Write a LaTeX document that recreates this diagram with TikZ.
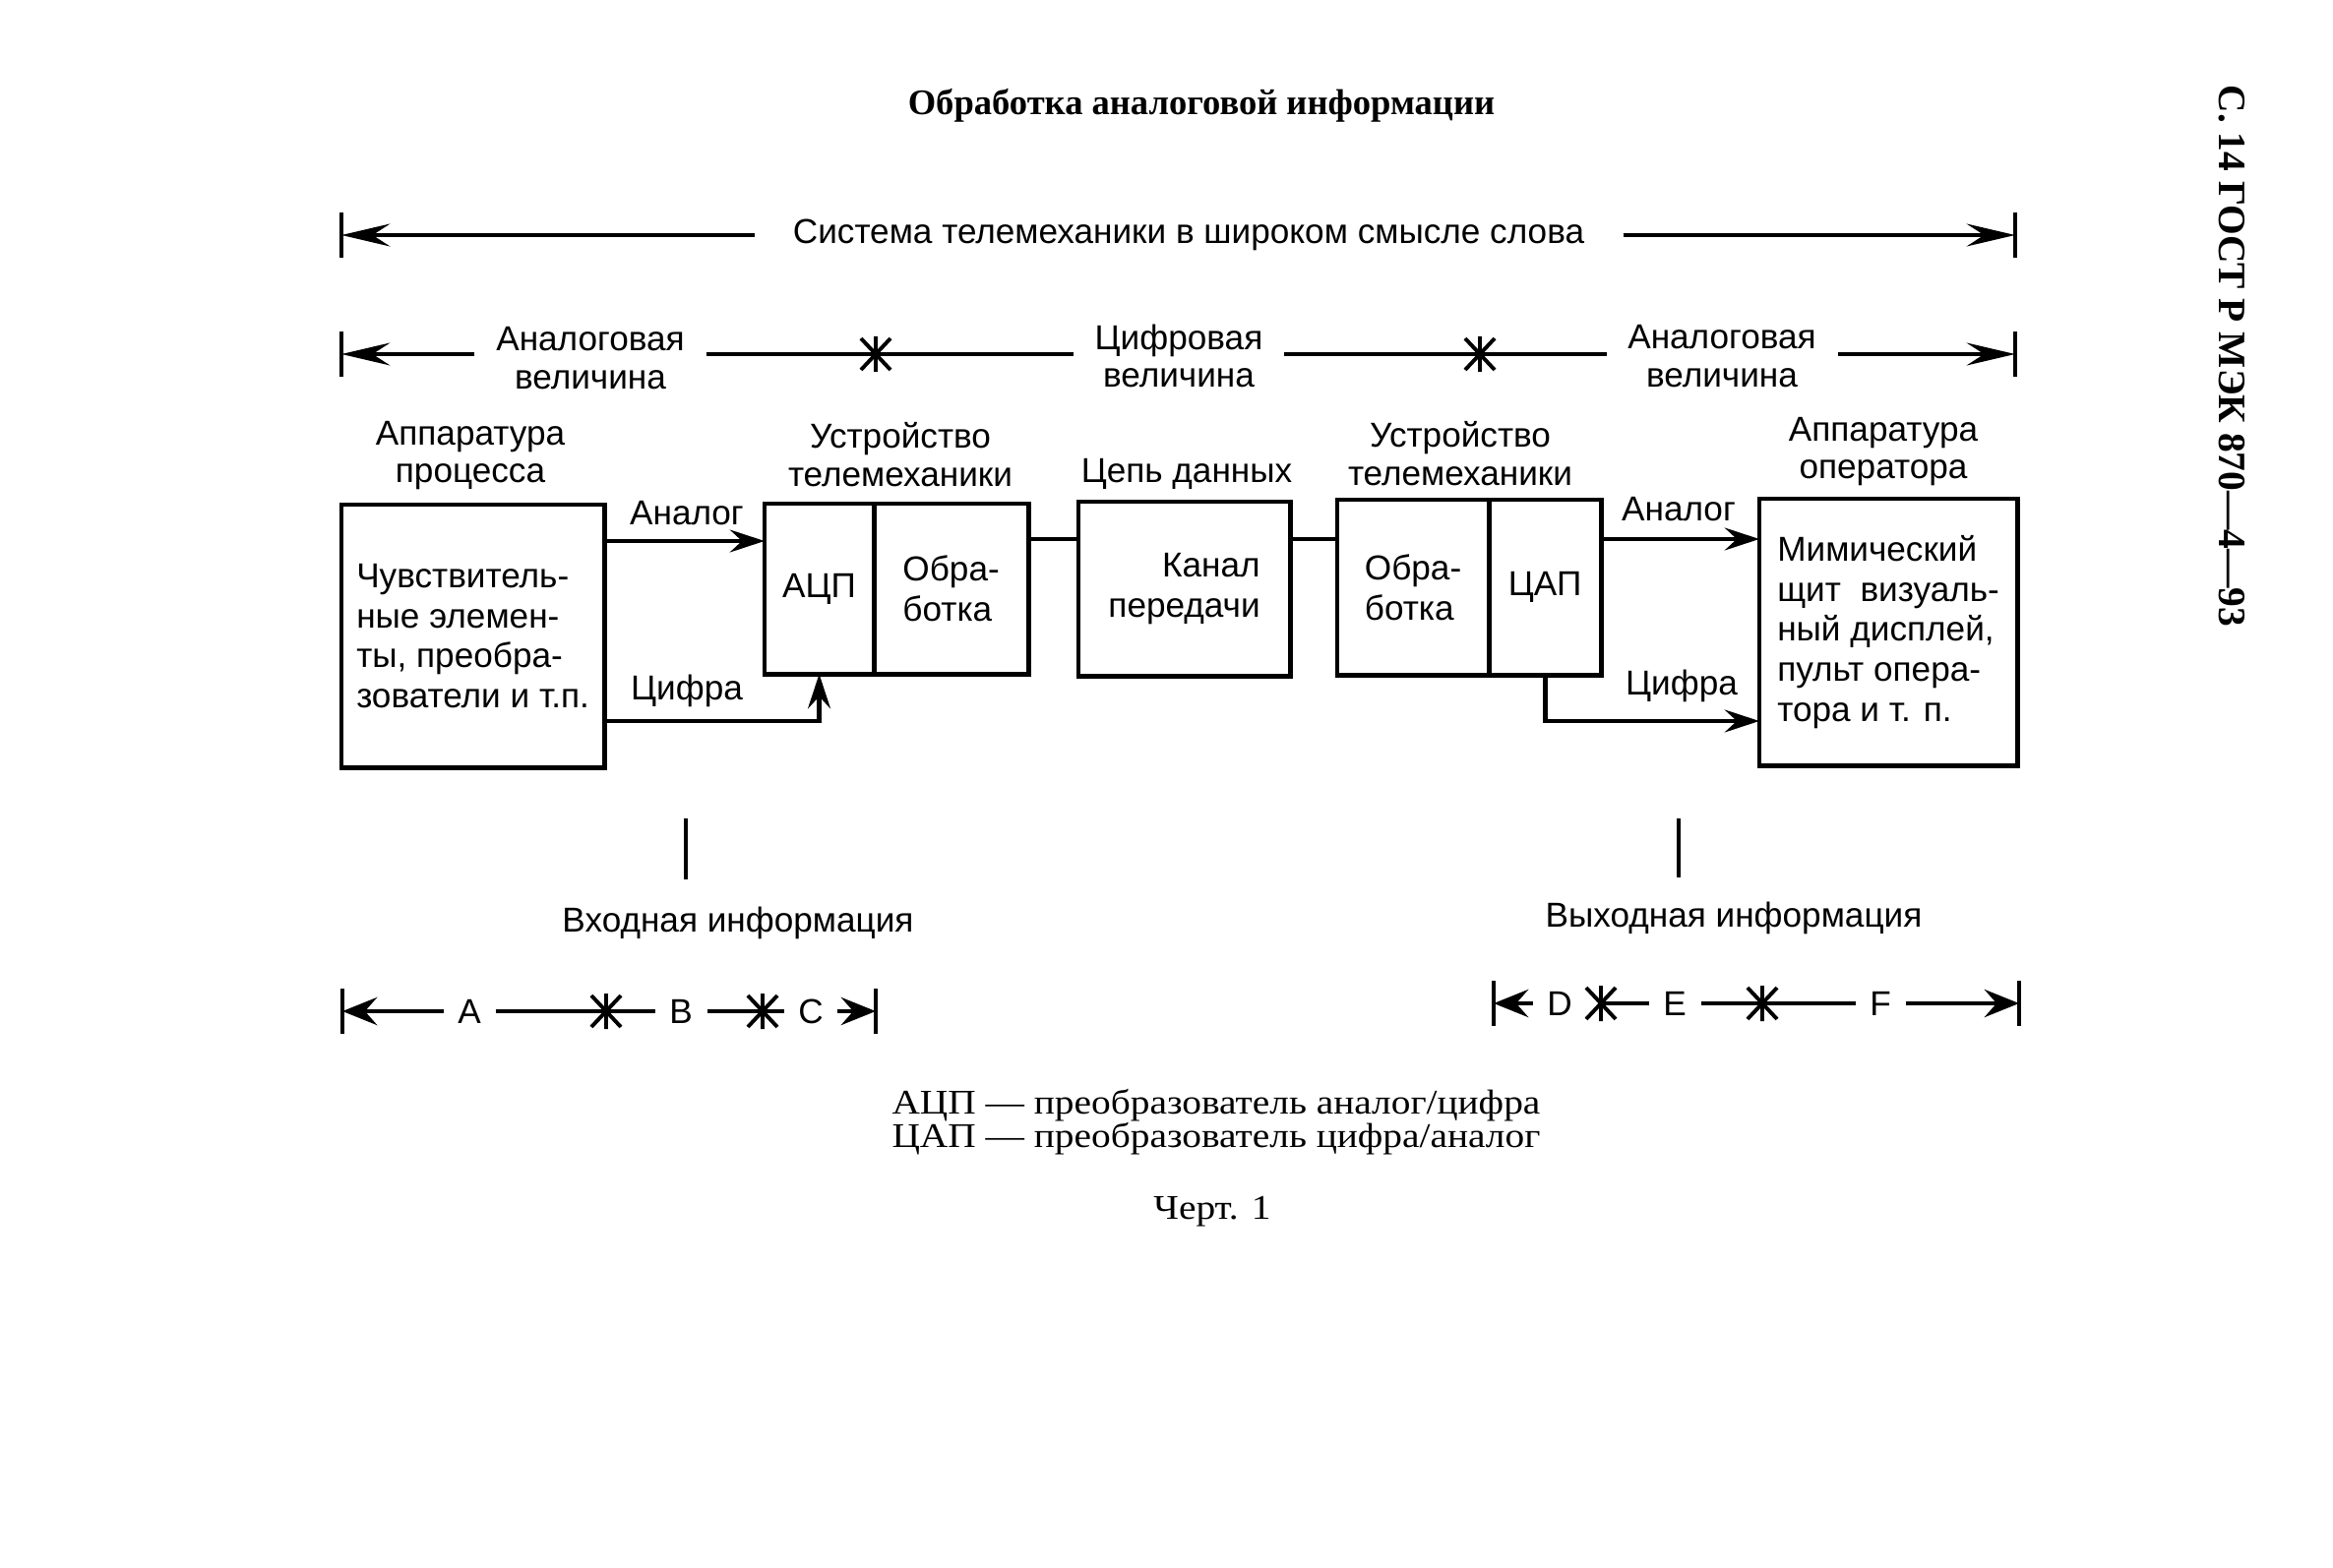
\documentclass[tikz,border=0pt]{standalone}
\usepackage{fontspec}
\setmainfont{Liberation Sans}
\newfontfamily\capserif[FakeStretch=1.12]{Liberation Serif}
\newfontfamily\sheetserif{Liberation Serif}
\usetikzlibrary{arrows.meta,positioning}
\newcommand\diagfont{\fontsize{10}{11}\selectfont}
\def\starmark(#1){\draw[spoke] (#1) ++(0,-18) -- ++(0,36) (#1) ++(-15,-16) -- ++(30,32) (#1) ++(-15,16) -- ++(30,-32);}

\tikzset{
  box/.style={draw, line width=1.4pt, outer sep=0pt, inner sep=0pt, align=left, font=\fontsize{10}{11.6}\selectfont},
  lbl/.style={inner sep=6pt, align=center},
  head/.style={align=center},
  tag/.style={inner sep=4pt},
  rule/.style={line width=1.4pt},
  dimarrow/.style={rule, -{Stealth[length=14pt,width=6.5pt,inset=5pt]}},
  flow/.style={rule, -{Stealth[length=10pt,width=6.5pt,inset=3.5pt]}},
  shortarrow/.style={rule, -{Stealth[length=10pt,width=8pt,inset=3.5pt]}},
  endbar/.style={line width=1.2pt},
  spoke/.style={line width=1.1pt}
}

\begin{document}
\begin{tikzpicture}[x=0.01cm, y=-0.01cm, font=\diagfont]
		\useasboundingbox (0,0) rectangle (2371,1594);
		
		%%%%% TITLE %%%%%
		\node[font=\sheetserif\bfseries\fontsize{10.4}{12}\selectfont] (title) at (1221,107) {Обработка аналоговой информации};
		\node[rotate=-90, font=\sheetserif\bfseries\fontsize{11.2}{13}\selectfont] (sheet) at (2268,362) {С. 14 ГОСТ Р МЭК 870—4—93};
		
		%%%%% SYSTEM ROW %%%%%
		\coordinate (r1L) at (347,239);
		\coordinate (r1R) at (2048,239);
		\node[lbl] (sys) at (1208,239) {Система телемеханики в широком смысле слова};
		\draw[dimarrow, shorten <=5pt] (sys) -- (r1L);
		\draw[dimarrow, shorten <=5pt] (sys) -- (r1R);
		
		%%%%% VALUE ROW %%%%%
		\coordinate (r2L) at (347,360);
		\coordinate (r2R) at (2048,360);
		\coordinate (s1) at (890,360);
		\coordinate (s2) at (1504,360);
		\node[lbl] (an1) at (600,364) {Аналоговая\\величина};
		\node[lbl] (cif) at (1198,362) {Цифровая\\величина};
		\node[lbl] (an2) at (1750,362) {Аналоговая\\величина};
		\draw[dimarrow] (an1.west |- r2L) -- (r2L);
		\draw[rule] (an1.east |- r2L) -- (s1) -- (cif.west |- r2L);
		\draw[rule] (cif.east |- r2L) -- (s2) -- (an2.west |- r2L);
		\draw[dimarrow] (an2.east |- r2R) -- (r2R);
		\starmark(s1)
		\starmark(s2)
		
		%%%%% HEADERS %%%%%
		\node[head] (hproc) at (478,463) {Аппаратура\\процесса};
		\node[head] (hdev1) at (915,462) {Устройство\\телемеханики};
		\node[head] (hdata) at (1206,482) {Цепь данных};
		\node[head] (hdev2) at (1484,461) {Устройство\\телемеханики};
		\node[head] (hoper) at (1914,459) {Аппаратура\\оператора};
		
		%%%%% BLOCKS %%%%%
		\node[box, anchor=north west, minimum width=2.67cm, minimum height=2.67cm] (sens) at (347,513) {Чувствитель-\\ные элемен-\\ты, преобра-\\зователи и т.п.};
		\node[box, anchor=north west, minimum width=1.11cm, minimum height=1.73cm] (adc) at (777,512) {АЦП};
		\node[box, right=0pt of adc, minimum width=1.57cm, minimum height=1.73cm] (proc1) {Обра-\\ботка};
		\node[box, anchor=north west, minimum width=2.15cm, minimum height=1.77cm, align=right] (chan) at (1096,510) {Канал\\передачи};
		\node[box, anchor=north west, minimum width=1.54cm, minimum height=1.78cm] (proc2) at (1359,508) {Обра-\\ботка};
		\node[box, right=0pt of proc2, minimum width=1.14cm, minimum height=1.78cm] (dac) {ЦАП};
		\node[box, anchor=north west, minimum width=2.62cm, minimum height=2.71cm] (disp) at (1788,507) {Мимический\\щит\ \ визуаль-\\ный дисплей,\\пульт опера-\\тора и т. п.};
		
		%%%%% LINKS %%%%%
		\coordinate (lvlA) at (0,550);
		\coordinate (lvlD) at (0,733);
		\coordinate (lvlL) at (0,548);
		\draw[flow] (sens.east |- lvlA) -- (adc.west |- lvlA);
		\draw[flow] (sens.east |- lvlD) -| (adc.south);
		\draw[rule] (proc1.east |- lvlL) -- (chan.west |- lvlL);
		\draw[rule] (chan.east |- lvlL) -- (proc2.west |- lvlL);
		\draw[flow] (dac.east |- lvlL) -- (disp.west |- lvlL);
		\draw[flow] (dac.south) |- (disp.west |- lvlD);
		\node (anin) at (698,522) {Аналог};
		\node (digin) at (698,702) {Цифра};
		\node (anout) at (1706,518) {Аналог};
		\node (digout) at (1709,697) {Цифра};
		
		%%%%% IN / OUT %%%%%
		\coordinate (tin) at (697,832);
		\coordinate (tout) at (1706,832);
		\draw[endbar] (tin) -- ++(0,62);
		\draw[endbar] (tout) -- ++(0,60);
		\node (inp) at (750,938) {Входная информация};
		\node (outp) at (1762,933) {Выходная информация};
		
		\coordinate (bL) at (348,1028);
		\coordinate (bR) at (890,1028);
		\coordinate (sA) at (616,1028);
		\coordinate (sB) at (775,1028);
		\node[tag] (nA) at (477,1028) {A};
		\node[tag] (nB) at (692,1028) {B};
		\node[tag] (nC) at (824,1028) {C};
		\draw[shortarrow] (nA) -- (bL);
		\draw[rule] (nA) -- (sA) -- (nB);
		\draw[rule] (nB) -- (sB) -- (nC);
		\draw[shortarrow] (nC) -- (bR);
		\starmark(sA)
		\starmark(sB)
		
		\coordinate (bL2) at (1518,1020);
		\coordinate (bR2) at (2052,1020);
		\coordinate (sD) at (1627,1020);
		\coordinate (sE) at (1791,1020);
		\node[tag] (nD) at (1585,1020) {D};
		\node[tag] (nE) at (1702,1020) {E};
		\node[tag] (nF) at (1911,1020) {F};
		\draw[shortarrow] (nD) -- (bL2);
		\draw[rule] (sD) -- (nE);
		\draw[rule] (nE) -- (sE) -- (nF);
		\draw[shortarrow] (nF) -- (bR2);
		\starmark(sD)
		\starmark(sE)
		
		\foreach \b in {r1L,r1R,r2L,r2R,bL,bR,bL2,bR2}
			\draw[endbar] (\b) ++(0,-23) -- ++(0,46);
		
		%%%%% NOTES %%%%%
		\node[font=\capserif\fontsize{10}{9.6}\selectfont, align=center] (abbr) at (1236,1141) {АЦП — преобразователь аналог/цифра\\ЦАП — преобразователь цифра/аналог};
		\node[font=\capserif\fontsize{10}{12}\selectfont] (fig) at (1232,1232) {Черт. 1};
		
	\end{tikzpicture}
\end{document}
